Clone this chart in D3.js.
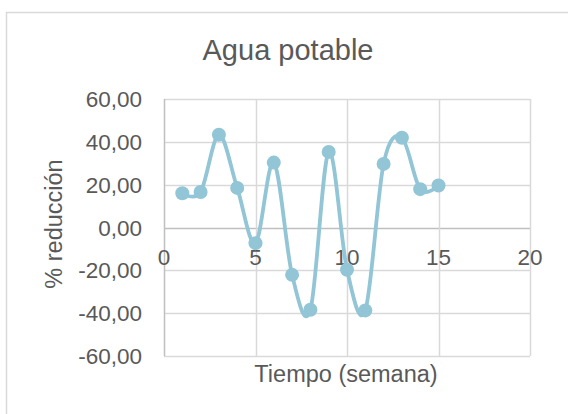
<!DOCTYPE html>
<html><head><meta charset="utf-8">
<script src="https://cdn.jsdelivr.net/npm/d3@7"></script>
<style>body{margin:0;background:#fff}svg{display:block;font-family:"Liberation Sans",Arial,sans-serif}</style>
</head><body><svg id="c" width="568" height="414"></svg>
<script>
const weeks = [1,2,3,4,5,6,7,8,9,10,11,12,13,14,15];
const reduction = [16.0,16.6,43.3,18.5,-7.3,30.3,-22.1,-38.4,35.3,-19.7,-38.7,29.7,41.9,17.9,19.6];
const xTicks = [0,5,10,15,20];
const yTicks = [-60,-40,-20,0,20,40,60];
const title = "Agua potable";
const xTitle = "Tiempo (semana)";
const yTitle = "% reducción";

const svg = d3.select("#c");
svg.append("rect").attr("x",6.5).attr("y",12.5).attr("width",600).attr("height",450)
  .attr("fill","#fff").attr("stroke","#d9d9d9").attr("stroke-width",1.5);

const x = d3.scaleLinear().domain([0,20]).range([164,530]);
const y = d3.scaleLinear().domain([-60,60]).range([356,99]);
const fmt = v => d3.format(".2f")(v).replace(".",",").replace("\u2212","-");

// grid
svg.append("g").selectAll("line").data(yTicks).join("line")
  .attr("x1",x(0)).attr("x2",x(20)).attr("y1",d=>Math.round(y(d))+0.5).attr("y2",d=>Math.round(y(d))+0.5)
  .attr("stroke",d=>d===0?"#bfbfbf":"#d9d9d9").attr("stroke-width",1.5);
svg.append("g").selectAll("line").data(xTicks).join("line")
  .attr("x1",d=>Math.round(x(d))+0.5).attr("x2",d=>Math.round(x(d))+0.5).attr("y1",y(60)).attr("y2",y(-60))
  .attr("stroke",d=>d===0?"#bfbfbf":"#d9d9d9").attr("stroke-width",1.5);

// y tick labels
svg.append("g").selectAll("text").data(yTicks).join("text")
  .attr("x",142).attr("y",d=>y(d)+8).attr("text-anchor","end")
  .attr("font-size",22.5).attr("fill","#595959").text(fmt);
// x tick labels
svg.append("g").selectAll("text").data(xTicks).join("text")
  .attr("x",d=>x(d)).attr("y",y(0)+37).attr("text-anchor","middle")
  .attr("font-size",22.5).attr("fill","#595959").text(d=>d);

// line
const line = d3.line().x((d,i)=>x(weeks[i])).y(d=>y(d)).curve(d3.curveCardinal.tension(0));
svg.append("path").datum(reduction).attr("d",line).attr("fill","none")
  .attr("stroke","#92c5d6").attr("stroke-width",3.8).attr("stroke-linecap","round");
svg.append("g").selectAll("circle").data(reduction).join("circle")
  .attr("cx",(d,i)=>x(weeks[i])).attr("cy",d=>y(d)).attr("r",7).attr("fill","#92c5d6");

// titles
svg.append("text").attr("x",288).attr("y",60).attr("text-anchor","middle")
  .attr("font-size",29).attr("fill","#595959").text(title);
svg.append("text").attr("x",346).attr("y",382).attr("text-anchor","middle")
  .attr("font-size",23.5).attr("fill","#595959").text(xTitle);
svg.append("text").attr("transform","translate(62,224) rotate(-90)").attr("text-anchor","middle")
  .attr("font-size",23.5).attr("fill","#595959").text(yTitle);
</script></body></html>
